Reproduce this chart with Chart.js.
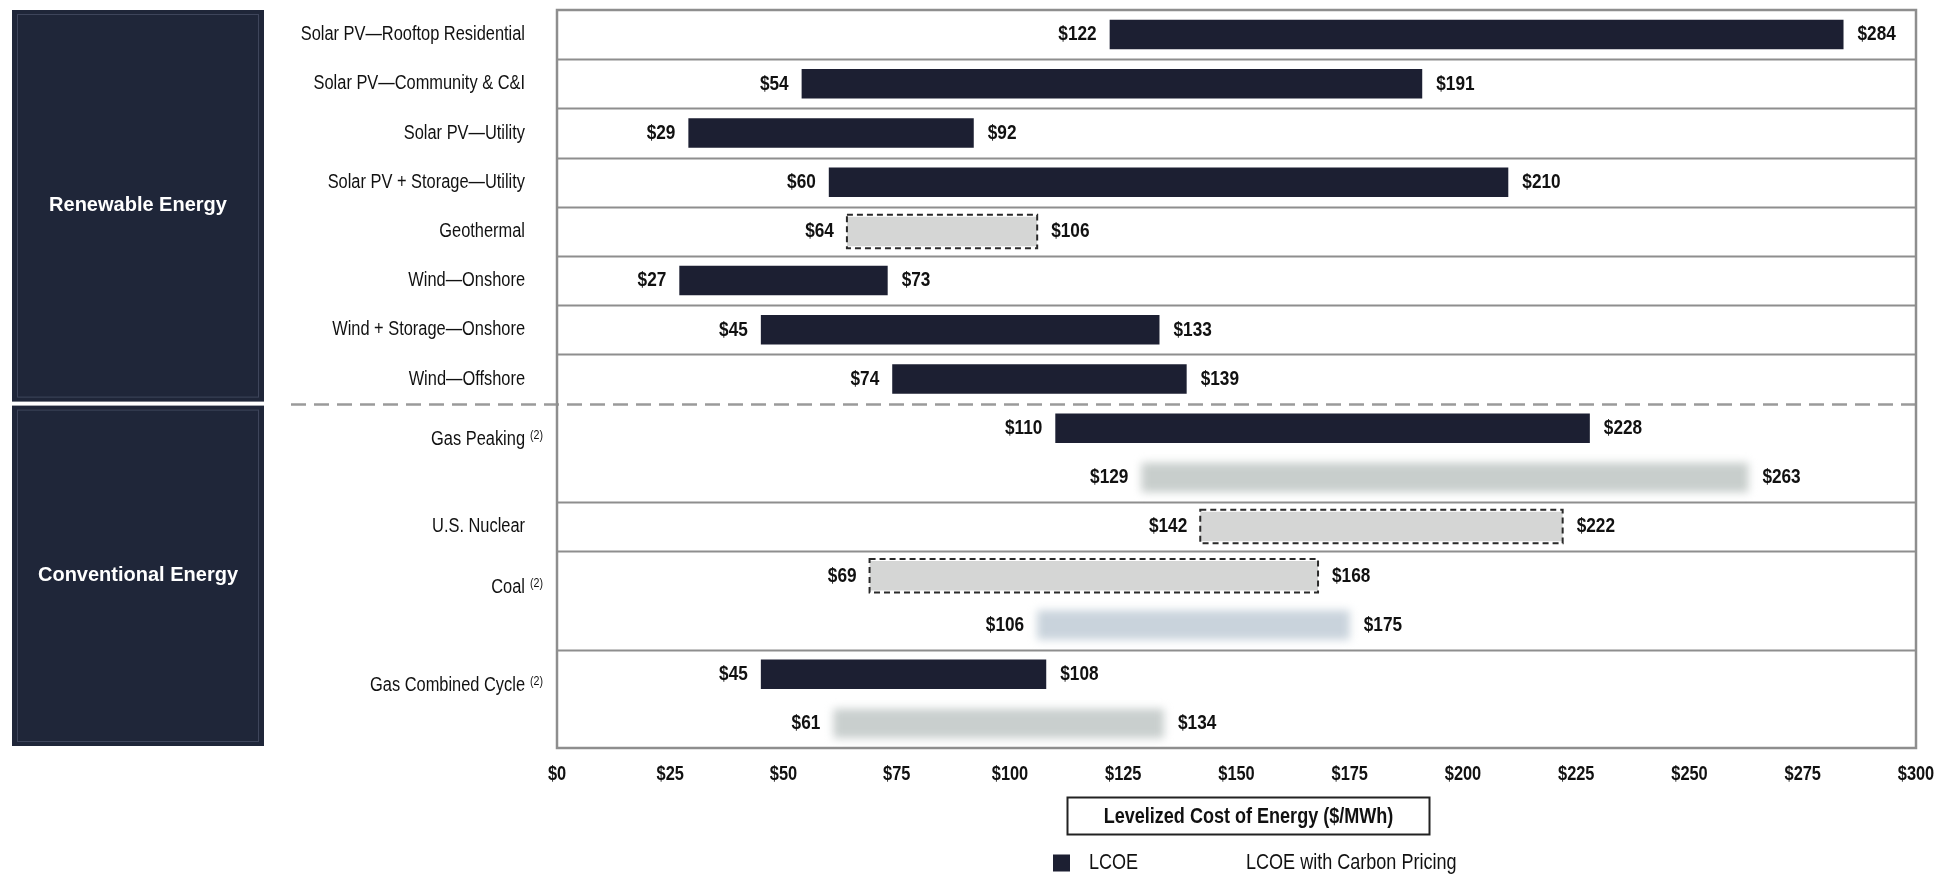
<!DOCTYPE html>
<html>
<head>
<meta charset="utf-8">
<title>Levelized Cost of Energy</title>
<script src="https://cdn.jsdelivr.net/npm/chart.js@4"></script>
<style>
  html, body { margin: 0; padding: 0; background: #ffffff; }
  canvas { display: block; }
</style>
</head>
<body>
<canvas id="lcoe" width="1956" height="875"></canvas>
<script>
// One slot per bar. A blank label is the second bar (carbon pricing) of the row above.
const rowLabels = [
  'Solar PV\u2014Rooftop Residential',
  'Solar PV\u2014Community & C&I',
  'Solar PV\u2014Utility',
  'Solar PV + Storage\u2014Utility',
  'Geothermal',
  'Wind\u2014Onshore',
  'Wind + Storage\u2014Onshore',
  'Wind\u2014Offshore',
  'Gas Peaking',
  '',
  'U.S. Nuclear',
  'Coal',
  '',
  'Gas Combined Cycle',
  ''
];
const rowNotes = ['', '', '', '', '', '', '', '', '(2)', '', '', '(2)', '', '(2)', ''];

// LCOE range ($/MWh)
const lcoeLow  = [122, 54, 29, 60,  64, 27,  45,  74, 110, null, 142,  69, null,  45, null];
const lcoeHigh = [284, 191, 92, 210, 106, 73, 133, 139, 228, null, 222, 168, null, 108, null];

// LCOE with carbon pricing ($/MWh)
const carbonLow  = [null, null, null, null, null, null, null, null, null, 129, null, null, 106, null,  61];
const carbonHigh = [null, null, null, null, null, null, null, null, null, 263, null, null, 175, null, 134];

// Rows shown as dashed outline boxes
const dashedRows = [4, 10, 11];

// Sector panels (first and last slot of each)
const sectors = [
  { name: 'Renewable Energy', first: 0, last: 7 },
  { name: 'Conventional Energy', first: 8, last: 14 }
];
// Slots that start a new row (solid rule above them); the sector break gets a dashed rule
const rowStarts = [1, 2, 3, 4, 5, 6, 7, 10, 11, 13];
const sectorStart = 8;

const axisMin = 0, axisMax = 300, axisStep = 25;
const axisTitle = 'Levelized Cost of Energy ($/MWh)';
const legendLabels = ['LCOE', 'LCOE with Carbon Pricing'];

// ---------- styling ----------
const COLORS = {
  navy: '#1c1f32',
  panel: '#1f2639',
  dashedFill: '#d5d6d5',
  carbon: { 9: '#c8cecc', 12: '#c9d3dc', 14: '#c9cfce' },
  rule: '#8e8e8e',
  text: '#111111'
};
const NARROW = '"Liberation Sans Narrow"';
const REGULAR = '"Liberation Sans", Arial, sans-serif';

function fontExists(family) {
  const c = document.createElement('canvas').getContext('2d');
  const s = 'Solar PV Rooftop Residential $0123456789';
  c.font = '40px monospace';
  const a = c.measureText(s).width;
  c.font = '40px ' + family + ', monospace';
  const b = c.measureText(s).width;
  return Math.abs(a - b) > 0.5;
}
const narrowOK = fontExists(NARROW);

function drawText(ctx, text, x, y, o) {
  const size = o.size, weight = o.weight || 'normal';
  ctx.save();
  ctx.fillStyle = o.color || COLORS.text;
  ctx.textBaseline = 'middle';
  ctx.textAlign = o.align || 'left';
  if (o.narrow !== false && !narrowOK) {
    ctx.font = weight + ' ' + size + 'px ' + REGULAR;
    ctx.translate(x, y);
    ctx.scale(0.82, 1);
    ctx.fillText(text, 0, 0);
  } else {
    ctx.font = weight + ' ' + size + 'px ' + (o.narrow === false ? '' : NARROW + ', ') + REGULAR;
    ctx.fillText(text, x, y);
  }
  ctx.restore();
}

const money = v => '$' + v;

// Backdrop: sector panels, row rules
const backdrop = {
  id: 'backdrop',
  beforeDatasetsDraw(chart) {
    const { ctx, chartArea: a, scales: { y } } = chart;
    const slot = Math.abs(y.getPixelForValue(1) - y.getPixelForValue(0));
    const edge = k => y.getPixelForValue(k) - slot / 2;

    // sector panels
    sectors.forEach((s, i) => {
      const top = edge(s.first) + (i === 0 ? 0 : 2);
      const bottom = edge(s.last) + slot - 2;
      ctx.save();
      ctx.fillStyle = COLORS.panel;
      ctx.fillRect(12, top, 252, bottom - top);
      ctx.strokeStyle = 'rgba(120,130,155,0.35)';
      ctx.lineWidth = 1;
      ctx.strokeRect(17.5, top + 4.5, 241, bottom - top - 9);
      ctx.restore();
      drawText(ctx, s.name, 138, (top + bottom) / 2, { size: 20, weight: 'bold', color: '#ffffff', align: 'center', narrow: false });
    });

    // row rules
    ctx.save();
    ctx.strokeStyle = COLORS.rule;
    ctx.lineWidth = 2;
    rowStarts.forEach(k => {
      const py = Math.round(edge(k)) + 0.5;
      ctx.beginPath();
      ctx.moveTo(a.left, py);
      ctx.lineTo(a.right, py);
      ctx.stroke();
    });
    // sector break, running out under the row labels
    const sy = Math.round(edge(sectorStart)) + 0.5;
    ctx.strokeStyle = '#9a9a9a';
    ctx.lineWidth = 2.5;
    ctx.setLineDash([15, 8]);
    ctx.beginPath();
    ctx.moveTo(291, sy);
    ctx.lineTo(a.right, sy);
    ctx.stroke();
    ctx.restore();
  }
};

// Soft edges on the carbon pricing bars
const softBars = {
  id: 'softBars',
  beforeDatasetDraw(chart, args) {
    if (args.index === 1) { chart.ctx.save(); chart.ctx.filter = 'blur(4px)'; }
  },
  afterDatasetDraw(chart, args) {
    if (args.index === 1) { chart.ctx.restore(); }
  }
};

// Outlines, value labels, row labels, axis labels, title box and legend
const annotations = {
  id: 'annotations',
  afterDatasetsDraw(chart) {
    const { ctx, chartArea: a, scales: { x, y } } = chart;
    const slot = Math.abs(y.getPixelForValue(1) - y.getPixelForValue(0));

    // plot frame
    ctx.save();
    ctx.strokeStyle = COLORS.rule;
    ctx.lineWidth = 2.5;
    ctx.strokeRect(a.left, a.top, a.right - a.left, a.bottom - a.top);
    ctx.restore();

    // dashed outline boxes
    const lcoeMeta = chart.getDatasetMeta(0);
    dashedRows.forEach(i => {
      const el = lcoeMeta.data[i];
      if (!el) return;
      const p = el.getProps(['x', 'y', 'base', 'height'], true);
      const l = Math.min(p.x, p.base), r = Math.max(p.x, p.base);
      const h = p.height + 4;
      ctx.save();
      ctx.strokeStyle = '#2a2a2a';
      ctx.lineWidth = 2;
      ctx.setLineDash([6, 4]);
      ctx.strokeRect(l, p.y - h / 2, r - l, h);
      ctx.restore();
    });

    // value labels at both ends of every bar
    [[lcoeLow, lcoeHigh], [carbonLow, carbonHigh]].forEach((pair, di) => {
      const meta = chart.getDatasetMeta(di);
      pair[0].forEach((lo, i) => {
        if (lo === null) return;
        const el = meta.data[i];
        const p = el.getProps(['x', 'y', 'base'], true);
        const l = Math.min(p.x, p.base), r = Math.max(p.x, p.base);
        drawText(ctx, money(lo), l - 13, p.y, { size: 21, weight: 'bold', align: 'right' });
        drawText(ctx, money(pair[1][i]), r + 14, p.y, { size: 21, weight: 'bold', align: 'left' });
      });
    });

    // row labels
    const labelRight = a.left - 32;
    rowLabels.forEach((label, i) => {
      if (!label) return;
      const twoBars = i + 1 < rowLabels.length && rowLabels[i + 1] === '';
      const py = y.getPixelForValue(i) + (twoBars ? 0.23 * slot : 0);
      drawText(ctx, label, labelRight, py, { size: 20, align: 'right' });
      if (rowNotes[i]) {
        drawText(ctx, rowNotes[i], labelRight + 5, py - 4, { size: 13, align: 'left' });
      }
    });

    // x tick labels
    x.ticks.forEach(t => {
      drawText(ctx, money(t.value), x.getPixelForValue(t.value), a.bottom + 26, { size: 20, weight: 'bold', align: 'center' });
    });

    // axis title box
    const cx = (a.left + a.right) / 2 + 12, cy = a.bottom + 68;
    ctx.save();
    ctx.strokeStyle = '#222222';
    ctx.lineWidth = 2;
    ctx.strokeRect(cx - 181, cy - 18.5, 362, 37);
    ctx.restore();
    drawText(ctx, axisTitle, cx, cy + 1, { size: 22, weight: 'bold', align: 'center' });

    // legend
    const ly = a.bottom + 115;
    ctx.save();
    ctx.fillStyle = COLORS.navy;
    ctx.fillRect(1053, ly - 8.5, 17, 17);
    ctx.restore();
    drawText(ctx, legendLabels[0], 1089, ly, { size: 22, align: 'left' });
    drawText(ctx, legendLabels[1], 1246, ly, { size: 22, align: 'left' });
  }
};

const pairs = (lo, hi) => lo.map((v, i) => (v === null ? null : [v, hi[i]]));

new Chart(document.getElementById('lcoe'), {
  type: 'bar',
  data: {
    labels: rowLabels.map((l, i) => l || rowLabels[i - 1] + ' (carbon)'),
    datasets: [
      {
        label: legendLabels[0],
        data: pairs(lcoeLow, lcoeHigh),
        grouped: false,
        categoryPercentage: 1,
        barPercentage: 0.6,
        borderWidth: 0,
        borderSkipped: false,
        backgroundColor: c => (dashedRows.includes(c.dataIndex) ? COLORS.dashedFill : COLORS.navy)
      },
      {
        label: legendLabels[1],
        data: pairs(carbonLow, carbonHigh),
        grouped: false,
        categoryPercentage: 1,
        barPercentage: 0.6,
        borderWidth: 0,
        backgroundColor: c => COLORS.carbon[c.dataIndex] || '#c9cfce'
      }
    ]
  },
  options: {
    indexAxis: 'y',
    responsive: false,
    animation: false,
    devicePixelRatio: 1,
    layout: { padding: { left: 557, right: 40, top: 10, bottom: 0 } },
    plugins: { legend: { display: false }, tooltip: { enabled: false } },
    scales: {
      y: { type: 'category', display: false, offset: true },
      x: {
        type: 'linear',
        min: axisMin,
        max: axisMax,
        ticks: { stepSize: axisStep, display: false },
        grid: { display: false, drawTicks: false },
        border: { display: false },
        afterFit(scale) { scale.height = 127; }
      }
    }
  },
  plugins: [backdrop, softBars, annotations]
});
</script>
</body>
</html>
